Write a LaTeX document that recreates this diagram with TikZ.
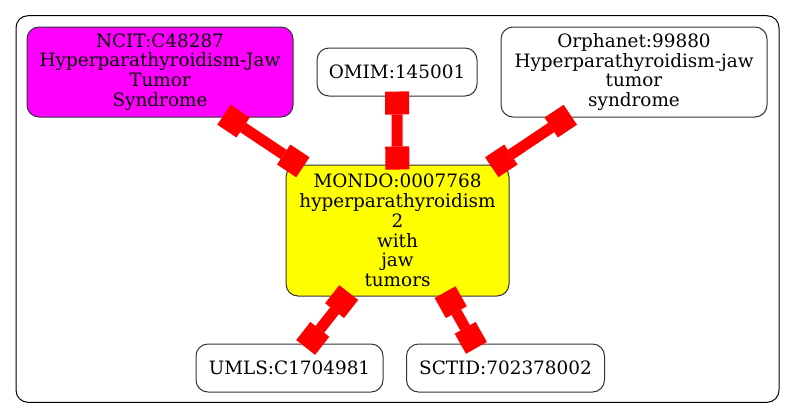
\documentclass[tikz,border=0pt]{standalone}
\usepackage{fontspec}
\setmainfont{DejaVu Serif}
\usetikzlibrary{arrows.meta,calc}

\tikzset{every picture/.style={line width=0.75pt}}
\tikzset{
  term/.style={draw={rgb, 255:red, 51; green, 51; blue, 51 }, rounded corners=9pt, align=center, inner sep=0pt, font=\fontsize{13.8}{14.85}\selectfont},
  boxtip/.tip={Square[length=17.25pt,width=18pt,line width=0pt]},
  link/.style={draw={rgb, 255:red, 255; green, 0; blue, 0 }, line width=8.25pt, boxtip-boxtip, shorten <=-3.75pt, shorten >=-3.75pt}
}

\begin{document}
\begin{tikzpicture}[x=0.75pt,y=0.75pt,yscale=-1,xscale=1]
\useasboundingbox (0,0) rectangle (795,419);

%Shape: Cluster
\draw [rounded corners=9pt] (16,15.7) rectangle (779,402.3) ;

% Term Nodes
\node [term, fill={rgb, 255:red, 255; green, 0; blue, 255 }, minimum width=199.5pt, minimum height=67.5pt] (ncit) at (160,72) {NCIT:C48287\\Hyperparathyroidism-Jaw\\Tumor\\Syndrome};
\node [term, minimum width=120pt, minimum height=36pt] (omim) at (397,72) {OMIM:145001};
\node [term, minimum width=199.5pt, minimum height=67.5pt] (orpha) at (634,72) {Orphanet:99880\\Hyperparathyroidism-jaw\\tumor\\syndrome};
\node [term, fill={rgb, 255:red, 255; green, 255; blue, 0 }, minimum width=167.25pt, minimum height=98.25pt] (mondo) at (397.5,230.5) {MONDO:0007768\\hyperparathyroidism\\2\\with\\jaw\\tumors};
\node [term, minimum width=140.25pt, minimum height=36pt] (umls) at (289.5,368) {UMLS:C1704981};
\node [term, minimum width=148.5pt, minimum height=36pt] (sctid) at (505.5,368) {SCTID:702378002};

%Straight Lines: links
\draw [link] (ncit) -- (mondo) ;
\draw [link] (omim) -- (mondo) ;
\draw [link] (orpha) -- (mondo) ;
\draw [link] (mondo) -- (umls) ;
\draw [link] ($(mondo.south)+(50,0)$) -- ($(sctid.north)+(-31.5,0)$) ;

\end{tikzpicture}
\end{document}
